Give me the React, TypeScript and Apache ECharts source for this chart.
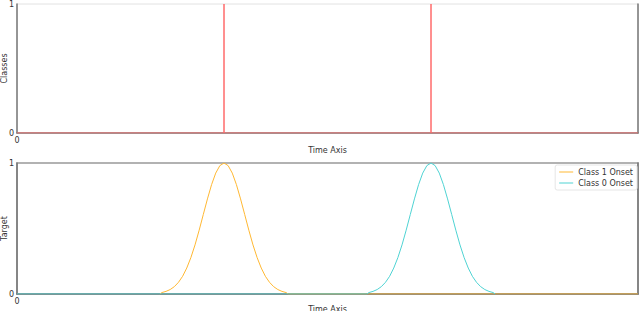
import React, { useEffect, useRef } from "react";
import * as echarts from "echarts";

// Top panel: class events (vertical spikes at these time indices)
const timeMax = 300;
const classEventTimes = [100, 200];

// Bottom panel: onset target curves (peak centres and shape)
const class1Center = 100;
const class0Center = 200;
const onsetOffsets = [-30, -28, -26, -24, -22, -20, -18, -16, -14, -12, -10, -8, -6, -4, -2, 0, 2, 4, 6, 8, 10, 12, 14, 16, 18, 20, 22, 24, 26, 28, 30];
const onsetValues = [0.011, 0.02, 0.034, 0.056, 0.089, 0.135, 0.198, 0.278, 0.375, 0.487, 0.607, 0.726, 0.835, 0.923, 0.98, 1.0, 0.98, 0.923, 0.835, 0.726, 0.607, 0.487, 0.375, 0.278, 0.198, 0.135, 0.089, 0.056, 0.034, 0.02, 0.011];

const FONT = "DejaVu Sans";

function classData(): [number, number][] {
  const pts: [number, number][] = [[0, 0]];
  classEventTimes.forEach((t) => {
    pts.push([t, 0], [t, 1], [t, 0]);
  });
  pts.push([timeMax, 0]);
  return pts;
}

function onsetData(center: number, from: number, to: number): [number, number][] {
  const pts: [number, number][] = [];
  if (from < center + onsetOffsets[0]) pts.push([from, 0], [center + onsetOffsets[0] - 1, 0]);
  onsetOffsets.forEach((o, i) => pts.push([center + o, onsetValues[i]]));
  const last = center + onsetOffsets[onsetOffsets.length - 1];
  if (to > last) pts.push([last + 1, 0], [to, 0]);
  return pts;
}

export default function App() {
  const ref = useRef<HTMLDivElement>(null);
  useEffect(() => {
    if (!ref.current) return;
    const chart = echarts.init(ref.current, undefined, { renderer: "svg" });
    const xAxisBase = (gridIndex: number, nameGap: number) => ({
      type: "value" as const,
      gridIndex,
      min: 0,
      max: timeMax,
      interval: timeMax,
      name: "Time Axis",
      nameLocation: "middle" as const,
      nameGap,
      nameMoveOverlap: false,
      nameTextStyle: { fontFamily: FONT, fontSize: 8, color: "#333" },
      axisLine: { show: true, onZero: false, lineStyle: { color: "#777", width: 1.5 } },
      axisTick: { show: false },
      splitLine: { show: false },
      axisLabel: { fontFamily: FONT, fontSize: 8, color: "#333", margin: 3, showMaxLabel: false },
    });
    const yAxisBase = (gridIndex: number, name: string) => ({
      type: "value" as const,
      gridIndex,
      min: 0,
      max: 1,
      interval: 1,
      name,
      nameLocation: "middle" as const,
      nameGap: 9,
      nameMoveOverlap: false,
      nameTextStyle: { fontFamily: FONT, fontSize: 8, color: "#333" },
      axisLine: { show: true, lineStyle: { color: "#777", width: 1.5 } },
      axisTick: { show: false },
      splitLine: { show: false },
      axisLabel: { fontFamily: FONT, fontSize: 8, color: "#333", margin: 3 },
    });
    chart.setOption({
      animation: false,
      backgroundColor: "#fff",
      grid: [
        { left: 17, right: 2, top: 4, height: 129, show: true, borderColor: "#e2e2e2", borderWidth: 1, containLabel: false, outerBoundsMode: "none" },
        { left: 17, right: 2, top: 163, height: 131, show: true, borderColor: "#999", borderWidth: 1.5, containLabel: false, outerBoundsMode: "none" },
      ],
      xAxis: [xAxisBase(0, 13), xAxisBase(1, 11)],
      yAxis: [
        yAxisBase(0, "Classes"),
        yAxisBase(1, "Target"),
        {
          type: "value",
          gridIndex: 0,
          position: "right",
          min: 0,
          max: 1,
          axisLine: { show: true, lineStyle: { color: "#777", width: 1.5 } },
          axisTick: { show: false },
          axisLabel: { show: false },
          splitLine: { show: false },
        },
        {
          type: "value",
          gridIndex: 1,
          position: "right",
          min: 0,
          max: 1,
          axisLine: { show: true, lineStyle: { color: "#777", width: 1.5 } },
          axisTick: { show: false },
          axisLabel: { show: false },
          splitLine: { show: false },
        },
      ],
      legend: {
        data: ["Class 1 Onset", "Class 0 Onset"],
        orient: "vertical",
        right: 3,
        top: 165,
        backgroundColor: "#fff",
        borderColor: "#e6e6e6",
        borderWidth: 1,
        borderRadius: 2,
        padding: [3, 4, 3, 4],
        itemGap: 3,
        itemWidth: 14,
        itemHeight: 6,
        icon: "path://M0,2.5L14,2.5L14,3.5L0,3.5Z",
        textStyle: { fontFamily: FONT, fontSize: 8, color: "#333" },
      },
      series: [
        {
          name: "Classes",
          type: "line",
          xAxisIndex: 0,
          yAxisIndex: 0,
          data: classData(),
          showSymbol: false,
          symbol: "none",
          lineStyle: { color: "#ff6b6b", width: 1 },
          itemStyle: { color: "#ff6b6b" },
        },
        {
          name: "Class 1 Onset",
          type: "line",
          xAxisIndex: 1,
          yAxisIndex: 1,
          data: onsetData(class1Center, class1Center + onsetOffsets[0] - 1, timeMax),
          symbol: "none",
          lineStyle: { color: "#ffb833", width: 1 },
          itemStyle: { color: "#ffb833" },
        },
        {
          name: "Class 0 Onset",
          type: "line",
          xAxisIndex: 1,
          yAxisIndex: 1,
          data: onsetData(class0Center, 0, class0Center + onsetOffsets[onsetOffsets.length - 1] + 1),
          symbol: "none",
          lineStyle: { color: "#4fd3d3", width: 1 },
          itemStyle: { color: "#4fd3d3" },
        },
      ],
    });
    return () => chart.dispose();
  }, []);
  return <div ref={ref} style={{ width: 640, height: 311, position: "absolute", left: 0, top: 0 }} />;
}
